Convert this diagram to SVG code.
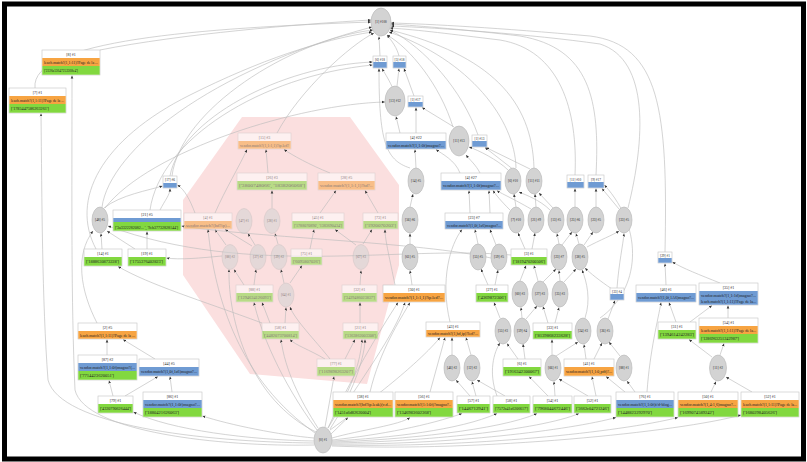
<svg xmlns="http://www.w3.org/2000/svg" width="807" height="462" viewBox="0 0 807 462">
<defs>
<marker id="ah" markerWidth="3.2" markerHeight="3.2" refX="3" refY="1.6" orient="auto" markerUnits="userSpaceOnUse"><path d="M0,0.3 L3,1.6 L0,2.9z" fill="#333"/></marker>
<style>
.e{fill:none;stroke:#bdbdbd;stroke-width:0.65;marker-end:url(#ah)}
.h{fill:#fff;stroke:#c4c4c4;stroke-width:0.6}
.o{fill:#f7a442}
.b{fill:#6f9bd3}
.g{fill:#82d83f}
.el{fill:#d3d3d3;stroke:#b5b5b5;stroke-width:0.6}
text{font-family:"Liberation Serif","DejaVu Serif",serif;font-size:4px;fill:#222}
.t{text-anchor:middle}
.s{font-size:3.4px}
.f{opacity:0.55}
</style>
</defs>
<rect x="0" y="0" width="807" height="462" fill="#fff"/>
<polygon points="242,117 350,117 399,185 399,265 367,384 250,374 183,275 183,200" fill="#fbdfdf"/>
<g id="edges">
<path class="e" d="M380,56 L379,36.5"/>
<path class="e" d="M399,56 C397,48 392,41 387,35"/>
<path class="e" d="M392,86.5 C388,78 384,72 382,68.5"/>
<path class="e" d="M397,86 L399,68.5"/>
<path class="e" d="M414,96 L404,68.5"/>
<path class="e" d="M416,133 L416,107.5"/>
<path class="e" d="M454,127 L422,107.5"/>
<path class="e" d="M478,135 C462,90 425,48 390,30"/>
<path class="e" d="M453,127 C440,85 410,48 387,35"/>
<path class="e" d="M410,168 C385,160 379,140 379,68.5"/>
<path class="e" d="M400,133 L396,116.5"/>
<path class="e" d="M105,208 C150,150 300,104 385,102"/>
<path class="e" d="M170,176 C180,120 280,66 372.5,62"/>
<path class="e" d="M150,210 C160,140 260,76 372.5,65"/>
<path class="e" d="M35,88 C30,40 200,28 371,22"/>
<path class="e" d="M100,50 C180,34 300,24 371,20"/>
<path class="e" d="M102,207 C110,150 210,70 372,27"/>
<path class="e" d="M172,176 C180,110 290,40 373,30"/>
<path class="e" d="M96,249 C70,200 100,140 190,95 C260,60 320,40 372,32"/>
<path class="e" d="M277,133 C300,90 350,45 374,33"/>
<path class="e" d="M97,323 C80,290 75,255 93,231"/>
<path class="e" d="M665,252 C668,110 660,45 590,36 C500,28 430,24 391,23"/>
<path class="e" d="M628,208 C645,140 650,60 600,44 C530,34 440,28 391,26"/>
<path class="e" d="M575,175 C578,110 560,50 500,40 C450,34 420,30 390,28"/>
<path class="e" d="M596,175 C600,100 590,48 520,36 C470,30 420,26 391,24"/>
<path class="e" d="M516,168 C515,120 470,60 389,32"/>
<path class="e" d="M534,168 C532,100 490,55 390,30"/>
<path class="e" d="M460,173 C455,160 442,154 436,149.5"/>
<path class="e" d="M416,168 L415,149.5"/>
<path class="e" d="M480,173 C476,165 470,160 466,155"/>
<path class="e" d="M508,170 C498,160 478,150 469,147"/>
<path class="e" d="M512,168.5 L485,147.5"/>
<path class="e" d="M530,169 L486,147.5"/>
<path class="e" d="M470,213 L469,190.5"/>
<path class="e" d="M490,213 L489,190.5"/>
<path class="e" d="M410,207 L413,194"/>
<path class="e" d="M410,244 L410,233.5"/>
<path class="e" d="M516,207 L514,194"/>
<path class="e" d="M536,207 L535,194"/>
<path class="e" d="M553,208 L539,193"/>
<path class="e" d="M550,210 C540,200 526,195 519,192"/>
<path class="e" d="M575,207 L575,188.5"/>
<path class="e" d="M596,207 L596,188.5"/>
<path class="e" d="M619,209 L602,188.5"/>
<path class="e" d="M510,210 C501,201 496,195 493,190.5"/>
<path class="e" d="M531,209 C512,198 500,193 497,190.5"/>
<path class="e" d="M496,245 L490,229.5"/>
<path class="e" d="M478,244 L475,229.5"/>
<path class="e" d="M525,249 L518,233"/>
<path class="e" d="M532,249 L535,233"/>
<path class="e" d="M559,244 L557,233.5"/>
<path class="e" d="M562,245 L572,232"/>
<path class="e" d="M579,244 L576,233.5"/>
<path class="e" d="M584,245 L593,232"/>
<path class="e" d="M587,247 C600,240 613,235 619,231"/>
<path class="e" d="M520,281 L526,265.5"/>
<path class="e" d="M543,282 L556,269"/>
<path class="e" d="M564,282 L576,269"/>
<path class="e" d="M538,281 L534,265.5"/>
<path class="e" d="M560,281 L559,270.5"/>
<path class="e" d="M488,285 L481,269"/>
<path class="e" d="M495,285 L498,270"/>
<path class="e" d="M500,318 L494,302.5"/>
<path class="e" d="M522,318 L521,307.5"/>
<path class="e" d="M526,319 L537,306"/>
<path class="e" d="M555,323 L559,307.5"/>
<path class="e" d="M548,323 L543,306.5"/>
<path class="e" d="M585,318 C591,300 587,282 582,270"/>
<path class="e" d="M608,319 L615,300.5"/>
<path class="e" d="M617,288 C619,262 623,245 624,233.5"/>
<path class="e" d="M612,289 C600,281 590,273 585,268"/>
<path class="e" d="M600,318 C640,290 645,230 604.5,185"/>
<path class="e" d="M452,355 L452,337.5"/>
<path class="e" d="M471,355 L466,337.5"/>
<path class="e" d="M518,359 L507,343.5"/>
<path class="e" d="M525,359 L523,344"/>
<path class="e" d="M556,356 L578,342"/>
<path class="e" d="M552,355 L552,339.5"/>
<path class="e" d="M586,359 L584,344.5"/>
<path class="e" d="M594,359 L602,343"/>
<path class="e" d="M620,356 L609,342"/>
<path class="e" d="M470,396 L456,380"/>
<path class="e" d="M476,396 L472,381.5"/>
<path class="e" d="M505,396 L477,380"/>
<path class="e" d="M497,396 C488,372 494,352 500,343"/>
<path class="e" d="M548,396 L529,376.5"/>
<path class="e" d="M555,396 L554,381.5"/>
<path class="e" d="M588,396 L559,379"/>
<path class="e" d="M596,396 L592,376.5"/>
<path class="e" d="M450,322 C440,280 450,245 462,229.5"/>
<path class="e" d="M666,285 L665,263.5"/>
<path class="e" d="M720,283 C700,275 682,268 672.5,262"/>
<path class="e" d="M676,322 L669,302.5"/>
<path class="e" d="M647,392 C650,350 658,320 661,302.5"/>
<path class="e" d="M690,322 L712,305.5"/>
<path class="e" d="M712,357 L689,339.5"/>
<path class="e" d="M720,355 L724,343.5"/>
<path class="e" d="M711,392 L716,381.5"/>
<path class="e" d="M752,392 L726,377"/>
<path class="e" d="M728,318 L728,305.5"/>
<path class="e" d="M635,392 L627,381"/>
<path class="e" d="M625,392 L606,376.5"/>
<path class="e" d="M268,173 L266,149.5"/>
<path class="e" d="M215,213 C225,190 240,165 247,149.5"/>
<path class="e" d="M330,173 C310,165 292,155 284,149.5"/>
<path class="e" d="M272,208 L272,190.5"/>
<path class="e" d="M320,213 L336,190.5"/>
<path class="e" d="M378,213 L365,190.5"/>
<path class="e" d="M226,245 L215,229.5"/>
<path class="e" d="M255,245 L248,233.5"/>
<path class="e" d="M278,244 L275,233.5"/>
<path class="e" d="M252,246 L225,229.5"/>
<path class="e" d="M310,249 L314,229.5"/>
<path class="e" d="M363,244 L372,229.5"/>
<path class="e" d="M356,245 L335,229.5"/>
<path class="e" d="M254,285 L256,269.5"/>
<path class="e" d="M244,285 L234,269.5"/>
<path class="e" d="M284,283 L281,269.5"/>
<path class="e" d="M290,283 L302,265.5"/>
<path class="e" d="M360,285 L361,270.5"/>
<path class="e" d="M270,323 L262,302.5"/>
<path class="e" d="M285,323 L286,307.5"/>
<path class="e" d="M360,323 L360,302.5"/>
<path class="e" d="M325,359 C310,350 295,345 290,339.5"/>
<path class="e" d="M345,359 L355,339.5"/>
<path class="e" d="M330,359 C315,340 295,320 290,307"/>
<path class="e" d="M195,213 C190,200 185,190 177.5,185"/>
<path class="e" d="M222,256 C200,258 180,260 166.5,258"/>
<path class="e" d="M511,255 C400,245 250,278 108,226"/>
<path class="e" d="M491,258 C420,242 260,238 181.5,226"/>
<path class="e" d="M262,323 C200,300 150,285 118,266.5"/>
<path class="e" d="M412,285 L410,270.5"/>
<path class="e" d="M395,285 C390,260 385,240 385,229.5"/>
<path class="e" d="M370,392 C380,350 400,320 410,302.5"/>
<path class="e" d="M430,392 L445,337.5"/>
<path class="e" d="M350,392 C360,370 365,350 365,339.5"/>
<path class="e" d="M318,428 C300,400 285,370 281,339.5"/>
<path class="e" d="M325,427 L334,376.5"/>
<path class="e" d="M328,428 C345,400 360,370 362,339.5"/>
<path class="e" d="M331,434 L348,417.5"/>
<path class="e" d="M332,438 C360,430 400,425 410,417.5"/>
<path class="e" d="M332,440 C380,435 430,425 462,413.5"/>
<path class="e" d="M332,441 C390,438 460,430 497,413.5"/>
<path class="e" d="M332,442 C400,440 500,430 537,413.5"/>
<path class="e" d="M332,443 C420,442 540,430 579,413.5"/>
<path class="e" d="M332,444 C450,445 570,430 616,417.5"/>
<path class="e" d="M332,445 C470,448 620,432 678,417.5"/>
<path class="e" d="M332,446 C480,452 680,432 741,415"/>
<path class="e" d="M314,438 C280,435 230,425 202.5,416"/>
<path class="e" d="M314,441 C250,440 170,430 133.5,412"/>
<path class="e" d="M314,443 C200,442 60,425 48,380 C42,300 42,200 41,113.5"/>
<path class="e" d="M314,445 C220,447 85,432 75,390 C71,300 72,200 72,75.5"/>
<path class="e" d="M328,428 C350,380 380,330 398,302.5"/>
<path class="e" d="M330,429 C360,380 395,335 405,302.5"/>
<path class="e" d="M316,432 C250,400 228,320 229,269.5"/>
<path class="e" d="M315,433 C240,380 215,300 208,229.5"/>
<path class="e" d="M317,430 C280,380 260,330 254,302.5"/>
<path class="e" d="M330,430 C400,380 430,350 440,337.5"/>
<path class="e" d="M113,396 L109,380.5"/>
<path class="e" d="M125,396 L158,376.5"/>
<path class="e" d="M107,355 L107,339.5"/>
<path class="e" d="M155,359 L123,339.5"/>
<path class="e" d="M172,392 L170,376.5"/>
<path class="e" d="M160,210 C165,200 170,195 170,188.5"/>
<path class="e" d="M104,208 C120,195 150,190 162.5,186"/>
<path class="e" d="M102,249 L101,233.5"/>
<path class="e" d="M147,249 L147,231.5"/>
<path class="e" d="M135,249 L107,231"/>
</g>
<g id="n8"><rect class="h" x="42" y="50" width="58" height="25"/><rect class="o" x="42.3" y="58" width="57.4" height="8"/><rect class="g" x="42.3" y="66" width="57.4" height="8.7"/><text class="t" x="71" y="55.8">[8] #1</text><text x="44" y="63.5" textLength="54" lengthAdjust="spacingAndGlyphs">leach.match?(1,1:11)?Page de la ...</text><text x="44" y="72" textLength="34" lengthAdjust="spacingAndGlyphs">['2226a53647253368e4']</text></g>
<g id="n7"><rect class="h" x="9" y="88" width="57" height="25"/><rect class="o" x="9.3" y="96" width="56.4" height="8"/><rect class="g" x="9.3" y="104" width="56.4" height="8.7"/><text class="t" x="37.5" y="93.8">[7] #1</text><text x="11" y="101.5" textLength="53" lengthAdjust="spacingAndGlyphs">leach.match?(1,1:11)?Page de la ...</text><text x="11" y="110" textLength="38" lengthAdjust="spacingAndGlyphs">['1785447586263261']</text></g>
<g id="n17"><rect class="h" x="163" y="176" width="14" height="12"/><rect class="b" x="163.3" y="183" width="13.4" height="4.7"/><text class="t s" x="170" y="181.2">[17] #6</text></g>
<g id="n48"><ellipse class="el" cx="100" cy="220" rx="8" ry="13"/><text class="t s" x="100" y="221.2">[48] #5</text></g>
<g id="n21"><rect class="h" x="113" y="210" width="68" height="21"/><rect class="b" x="113.3" y="218" width="67.4" height="4"/><rect class="g" x="113.3" y="222" width="67.4" height="8.7"/><text class="t" x="147" y="215.8">[21] #5</text><text x="115" y="228.5" textLength="63" lengthAdjust="spacingAndGlyphs">['3a3322282082... ', '9eb37732828144']</text></g>
<g id="n14"><rect class="h" x="84" y="249" width="38" height="17"/><rect class="g" x="84.3" y="257" width="37.4" height="8.7"/><text class="t" x="103" y="254.8">[14] #1</text><text x="86" y="263.3" textLength="33" lengthAdjust="spacingAndGlyphs">['1888630873228']</text></g>
<g id="n19"><rect class="h" x="128" y="249" width="38" height="17"/><rect class="g" x="128.3" y="257" width="37.4" height="8.7"/><text class="t" x="147" y="254.8">[19] #1</text><text x="130" y="263.3" textLength="33" lengthAdjust="spacingAndGlyphs">['1755376402823']</text></g>
<g id="n2"><rect class="h" x="78" y="323" width="59" height="16"/><rect class="o" x="78.3" y="331" width="58.4" height="7.7"/><text class="t" x="107.5" y="328.8">[2] #5</text><text x="80" y="336.6" textLength="55" lengthAdjust="spacingAndGlyphs">leach.match?(1,1:11)?Page de la ...</text></g>
<g id="n87"><rect class="h" x="78" y="355" width="59" height="25"/><rect class="b" x="78.3" y="363" width="58.4" height="8"/><rect class="g" x="78.3" y="371" width="58.4" height="8.7"/><text class="t" x="107.5" y="360.8">[87] #2</text><text x="80" y="368.6" textLength="55" lengthAdjust="spacingAndGlyphs">vendor.match?(1,1:0f)magno?(...</text><text x="80" y="377.3" textLength="34" lengthAdjust="spacingAndGlyphs">['7714423620051']</text></g>
<g id="n44"><rect class="h" x="139" y="359" width="60" height="17"/><rect class="b" x="139.3" y="367" width="59.4" height="8.7"/><text class="t" x="169" y="364.8">[44] #5</text><text x="141" y="373" textLength="56" lengthAdjust="spacingAndGlyphs">vendor.match?(1,0f,1a6)magno?...</text></g>
<g id="n79"><rect class="h" x="98" y="396" width="35" height="17"/><rect class="g" x="98.3" y="404" width="34.4" height="8.7"/><text class="t" x="115.5" y="401.8">[79] #1</text><text x="100" y="410.3" textLength="31" lengthAdjust="spacingAndGlyphs">['4320790626444']</text></g>
<g id="n86"><rect class="h" x="143" y="392" width="59" height="25"/><rect class="b" x="143.3" y="400" width="58.4" height="8"/><rect class="g" x="143.3" y="408" width="58.4" height="8.7"/><text class="t" x="172.5" y="397.8">[86] #1</text><text x="145" y="405.6" textLength="55" lengthAdjust="spacingAndGlyphs">vendor.match?(1,1:0f)magno?...</text><text x="145" y="414.3" textLength="34" lengthAdjust="spacingAndGlyphs">['1880421626063']</text></g>
<g id="n15" class="f"><rect class="h" x="238" y="133" width="53" height="16"/><rect class="o" x="238.3" y="141" width="52.4" height="7.7"/><text class="t" x="264.5" y="138.8">[15] #3</text><text x="240" y="146.6" textLength="49" lengthAdjust="spacingAndGlyphs">vendor.match?(1,1:1,1)?ip.led?</text></g>
<g id="n26" class="f"><rect class="h" x="237" y="173" width="70" height="17"/><rect class="g" x="237.3" y="181" width="69.4" height="8.7"/><text class="t" x="272" y="178.8">[26] #3</text><text x="239" y="187.3" textLength="66" lengthAdjust="spacingAndGlyphs">['3800748066', '1838206068']</text></g>
<g id="n28" class="f"><rect class="h" x="318" y="173" width="57" height="17"/><rect class="o" x="318.3" y="181" width="56.4" height="8.7"/><text class="t" x="346.5" y="178.8">[28] #5</text><text x="320" y="187.3" textLength="53" lengthAdjust="spacingAndGlyphs">vendor.match?(1,1:1,1)?hd?...</text></g>
<g id="n4a" class="f"><rect class="h" x="184" y="213" width="48" height="16"/><rect class="o" x="184.3" y="221" width="47.4" height="7.7"/><text class="t" x="208" y="218.8">[4] #1</text><text x="186" y="226.6" textLength="44" lengthAdjust="spacingAndGlyphs">vendor.match?(hd?ip)...</text></g>
<g id="n47" class="f"><ellipse class="el" cx="244" cy="221" rx="8" ry="12.5"/><text class="t s" x="244" y="222.2">[47] #1</text></g>
<g id="n28e" class="f"><ellipse class="el" cx="272" cy="221" rx="8" ry="12.5"/><text class="t s" x="272" y="222.2">[28] #1</text></g>
<g id="n45" class="f"><rect class="h" x="292" y="213" width="52" height="16"/><rect class="g" x="292.3" y="221" width="51.4" height="7.7"/><text class="t" x="318" y="218.8">[45] #1</text><text x="294" y="226.6" textLength="48" lengthAdjust="spacingAndGlyphs">['1788070890', '1383690434']</text></g>
<g id="n73" class="f"><rect class="h" x="363" y="213" width="35" height="16"/><rect class="g" x="363.3" y="221" width="34.4" height="7.7"/><text class="t" x="380.5" y="218.8">[73] #1</text><text x="365" y="226.6" textLength="31" lengthAdjust="spacingAndGlyphs">['1920070203']</text></g>
<g id="n88e" class="f"><ellipse class="el" cx="230" cy="257" rx="8" ry="12.5"/><text class="t s" x="230" y="258.2">[88] #2</text></g>
<g id="n37" class="f"><ellipse class="el" cx="258" cy="257" rx="8" ry="12.5"/><text class="t s" x="258" y="258.2">[37] #2</text></g>
<g id="n39" class="f"><ellipse class="el" cx="279" cy="257" rx="8" ry="12.5"/><text class="t s" x="279" y="258.2">[39] #2</text></g>
<g id="n75" class="f"><rect class="h" x="291" y="249" width="31" height="16"/><rect class="g" x="291.3" y="257" width="30.4" height="7.7"/><text class="t" x="306.5" y="254.8">[75] #1</text><text x="293" y="262.6" textLength="27" lengthAdjust="spacingAndGlyphs">['6095807026']</text></g>
<g id="n67" class="f"><ellipse class="el" cx="361" cy="257" rx="8" ry="12.5"/><text class="t s" x="361" y="258.2">[67] #3</text></g>
<g id="n88" class="f"><rect class="h" x="236" y="285" width="37" height="17"/><rect class="g" x="236.3" y="293" width="36.4" height="8.7"/><text class="t" x="254.5" y="290.8">[88] #1</text><text x="238" y="299.3" textLength="33" lengthAdjust="spacingAndGlyphs">['1294634126093']</text></g>
<g id="n64" class="f"><ellipse class="el" cx="286" cy="295" rx="8" ry="12"/><text class="t s" x="286" y="296.2">[64] #1</text></g>
<g id="n32" class="f"><rect class="h" x="342" y="285" width="35" height="17"/><rect class="g" x="342.3" y="293" width="34.4" height="8.7"/><text class="t" x="359.5" y="290.8">[32] #1</text><text x="344" y="299.3" textLength="31" lengthAdjust="spacingAndGlyphs">['3429486023837']</text></g>
<g id="n58" class="f"><rect class="h" x="262" y="323" width="37" height="16"/><rect class="g" x="262.3" y="331" width="36.4" height="7.7"/><text class="t" x="280.5" y="328.8">[58] #1</text><text x="264" y="336.6" textLength="33" lengthAdjust="spacingAndGlyphs">['4482073700814']</text></g>
<g id="n21b" class="f"><rect class="h" x="343" y="323" width="35" height="16"/><rect class="g" x="343.3" y="331" width="34.4" height="7.7"/><text class="t" x="360.5" y="328.8">[21] #1</text><text x="345" y="336.6" textLength="31" lengthAdjust="spacingAndGlyphs">['1363862003308']</text></g>
<g id="n77" class="f"><rect class="h" x="317" y="359" width="38" height="17"/><rect class="g" x="317.3" y="367" width="37.4" height="8.7"/><text class="t" x="336" y="364.8">[77] #1</text><text x="319" y="373.3" textLength="34" lengthAdjust="spacingAndGlyphs">['1169898263207']</text></g>
<g id="n30"><rect class="h" x="383" y="285" width="62" height="17"/><rect class="o" x="383.3" y="293" width="61.4" height="8.7"/><text class="t" x="414" y="290.8">[30] #1</text><text x="385" y="299.3" textLength="58" lengthAdjust="spacingAndGlyphs">vendor.match?(1,1:1,1)?ip.led?...</text></g>
<g id="n38"><rect class="h" x="333" y="392" width="60" height="25"/><rect class="o" x="333.3" y="400" width="59.4" height="8"/><rect class="g" x="333.3" y="408" width="59.4" height="8.7"/><text class="t" x="363" y="397.8">[38] #1</text><text x="335" y="405.6" textLength="56" lengthAdjust="spacingAndGlyphs">vendor.match?(hd?ip.leak)(v.d...</text><text x="335" y="414.3" textLength="36" lengthAdjust="spacingAndGlyphs">['1451a6d82620004']</text></g>
<g id="n56"><rect class="h" x="395" y="392" width="58" height="25"/><rect class="o" x="395.3" y="400" width="57.4" height="8"/><rect class="g" x="395.3" y="408" width="57.4" height="8.7"/><text class="t" x="424" y="397.8">[56] #1</text><text x="397" y="405.6" textLength="54" lengthAdjust="spacingAndGlyphs">vendor.match?(1:1:0f)?magno?..</text><text x="397" y="414.3" textLength="34" lengthAdjust="spacingAndGlyphs">['1346983602368']</text></g>
<g id="n0"><ellipse class="el" cx="323" cy="440" rx="9" ry="13"/><text class="t s" x="323" y="441.2">[0] #1</text></g>
<g id="n1e"><ellipse class="el" cx="381" cy="22" rx="10" ry="14"/><text class="t s" x="381" y="23.2">[1] #100</text></g>
<g id="n6"><rect class="h" x="373" y="56" width="14" height="12"/><rect class="b" x="373.3" y="62" width="13.4" height="5.7"/><text class="t s" x="380" y="60.8">[6] #18</text></g>
<g id="n5"><rect class="h" x="393" y="56" width="13" height="12"/><rect class="b" x="393.3" y="62" width="12.4" height="5.7"/><text class="t s" x="399.5" y="60.8">[5] #18</text></g>
<g id="n13"><ellipse class="el" cx="395" cy="101" rx="10" ry="15"/><text class="t s" x="395" y="102.2">[13] #12</text></g>
<g id="n1"><rect class="h" x="408" y="96" width="15" height="11"/><rect class="b" x="408.3" y="102" width="14.4" height="4.7"/><text class="t s" x="415.5" y="100.8">[1] #17</text></g>
<g id="n4b"><rect class="h" x="386" y="133" width="60" height="16"/><rect class="b" x="386.3" y="141" width="59.4" height="7.7"/><text class="t" x="416" y="138.8">[4] #22</text><text x="388" y="146.6" textLength="56" lengthAdjust="spacingAndGlyphs">vendor.match?(1,1:0f)magno?...</text></g>
<g id="n11"><ellipse class="el" cx="459" cy="141" rx="10" ry="15"/><text class="t s" x="459" y="142.2">[11] #13</text></g>
<g id="n1b"><rect class="h" x="472" y="135" width="15" height="12"/><rect class="b" x="472.3" y="141" width="14.4" height="5.7"/><text class="t s" x="479.5" y="139.8">[1] #13</text></g>
<g id="n14e"><ellipse class="el" cx="416" cy="181" rx="8" ry="13"/><text class="t s" x="416" y="182.2">[14] #5</text></g>
<g id="n4c"><rect class="h" x="441" y="173" width="60" height="17"/><rect class="b" x="441.3" y="181" width="59.4" height="8.7"/><text class="t" x="471" y="178.8">[4] #27</text><text x="443" y="187.3" textLength="56" lengthAdjust="spacingAndGlyphs">vendor.match?(1,1:0f)magno?...</text></g>
<g id="n6e"><ellipse class="el" cx="513" cy="181" rx="8" ry="13"/><text class="t s" x="513" y="182.2">[6] #10</text></g>
<g id="n11f"><ellipse class="el" cx="534" cy="181" rx="8" ry="13"/><text class="t s" x="534" y="182.2">[11] #11</text></g>
<g id="n11b"><rect class="h" x="567" y="175" width="17" height="13"/><rect class="b" x="567.3" y="182" width="16.4" height="5.7"/><text class="t s" x="575.5" y="180.6">[11] #10</text></g>
<g id="n9"><rect class="h" x="588" y="175" width="16" height="13"/><rect class="b" x="588.3" y="182" width="15.4" height="5.7"/><text class="t s" x="596" y="180.6">[9] #17</text></g>
<g id="n56e"><ellipse class="el" cx="410" cy="220" rx="8" ry="13"/><text class="t s" x="410" y="221.2">[56] #6</text></g>
<g id="n23"><rect class="h" x="445" y="213" width="58" height="16"/><rect class="b" x="445.3" y="221" width="57.4" height="7.7"/><text class="t" x="474" y="218.8">[23] #7</text><text x="447" y="226.6" textLength="54" lengthAdjust="spacingAndGlyphs">vendor.match?(1,0f,1a6)magno?...</text></g>
<g id="n7e"><ellipse class="el" cx="516" cy="220" rx="8" ry="13"/><text class="t s" x="516" y="221.2">[7] #10</text></g>
<g id="n21e"><ellipse class="el" cx="536" cy="220" rx="8" ry="13"/><text class="t s" x="536" y="221.2">[21] #9</text></g>
<g id="n13f"><ellipse class="el" cx="556" cy="220" rx="8" ry="13"/><text class="t s" x="556" y="221.2">[13] #5</text></g>
<g id="n25e"><ellipse class="el" cx="575" cy="220" rx="8" ry="13"/><text class="t s" x="575" y="221.2">[25] #6</text></g>
<g id="n23e"><ellipse class="el" cx="596" cy="220" rx="8" ry="13"/><text class="t s" x="596" y="221.2">[23] #5</text></g>
<g id="n33e"><ellipse class="el" cx="624" cy="220" rx="8" ry="13"/><text class="t s" x="624" y="221.2">[33] #5</text></g>
<g id="n61e"><ellipse class="el" cx="410" cy="257" rx="8" ry="13"/><text class="t s" x="410" y="258.2">[61] #5</text></g>
<g id="n55e"><ellipse class="el" cx="478" cy="257" rx="8" ry="13"/><text class="t s" x="478" y="258.2">[55] #5</text></g>
<g id="n59e"><ellipse class="el" cx="499" cy="257" rx="8" ry="13"/><text class="t s" x="499" y="258.2">[59] #5</text></g>
<g id="n3"><rect class="h" x="511" y="249" width="36" height="16"/><rect class="g" x="511.3" y="257" width="35.4" height="7.7"/><text class="t" x="529" y="254.8">[3] #1</text><text x="513" y="262.6" textLength="32" lengthAdjust="spacingAndGlyphs">['1819470200506']</text></g>
<g id="n23f"><ellipse class="el" cx="559" cy="257" rx="8" ry="13"/><text class="t s" x="559" y="258.2">[23] #7</text></g>
<g id="n38e"><ellipse class="el" cx="580" cy="257" rx="8" ry="13"/><text class="t s" x="580" y="258.2">[38] #5</text></g>
<g id="n27"><rect class="h" x="476" y="285" width="32" height="17"/><rect class="g" x="476.3" y="293" width="31.4" height="8.7"/><text class="t" x="492" y="290.8">[27] #1</text><text x="478" y="299.3" textLength="28" lengthAdjust="spacingAndGlyphs">['4369872306']</text></g>
<g id="n60e"><ellipse class="el" cx="520" cy="294" rx="8" ry="13"/><text class="t s" x="520" y="295.2">[60] #3</text></g>
<g id="n27e"><ellipse class="el" cx="540" cy="294" rx="8" ry="13"/><text class="t s" x="540" y="295.2">[27] #3</text></g>
<g id="n35e"><ellipse class="el" cx="560" cy="294" rx="8" ry="13"/><text class="t s" x="560" y="295.2">[35] #3</text></g>
<g id="n55f"><ellipse class="el" cx="503" cy="331" rx="8" ry="13"/><text class="t s" x="503" y="332.2">[55] #3</text></g>
<g id="n59f"><ellipse class="el" cx="522" cy="331" rx="8" ry="13"/><text class="t s" x="522" y="332.2">[59] #4</text></g>
<g id="n33"><rect class="h" x="533" y="323" width="39" height="16"/><rect class="g" x="533.3" y="331" width="38.4" height="7.7"/><text class="t" x="552.5" y="328.8">[33] #1</text><text x="535" y="336.6" textLength="35" lengthAdjust="spacingAndGlyphs">['8139868233628']</text></g>
<g id="n24e"><ellipse class="el" cx="583" cy="331" rx="8" ry="13"/><text class="t s" x="583" y="332.2">[24] #3</text></g>
<g id="n36e"><ellipse class="el" cx="605" cy="331" rx="8" ry="13"/><text class="t s" x="605" y="332.2">[36] #5</text></g>
<g id="n43"><rect class="h" x="426" y="322" width="54" height="15"/><rect class="o" x="426.3" y="330" width="53.4" height="6.7"/><text class="t" x="453" y="327.8">[43] #1</text><text x="428" y="335" textLength="50" lengthAdjust="spacingAndGlyphs">vendor.match?(1,hd,ip)?led?...</text></g>
<g id="n46e"><ellipse class="el" cx="452" cy="368" rx="8" ry="13"/><text class="t s" x="452" y="369.2">[46] #2</text></g>
<g id="n12e"><ellipse class="el" cx="472" cy="368" rx="8" ry="13"/><text class="t s" x="472" y="369.2">[12] #2</text></g>
<g id="n6b"><rect class="h" x="503" y="359" width="38" height="17"/><rect class="g" x="503.3" y="367" width="37.4" height="8.7"/><text class="t" x="522" y="364.8">[6] #1</text><text x="505" y="373.3" textLength="34" lengthAdjust="spacingAndGlyphs">['1916342300067']</text></g>
<g id="n66e"><ellipse class="el" cx="553" cy="368" rx="8" ry="13"/><text class="t s" x="553" y="369.2">[66] #1</text></g>
<g id="n41"><rect class="h" x="564" y="359" width="50" height="17"/><rect class="o" x="564.3" y="367" width="49.4" height="8.7"/><text class="t" x="589" y="364.8">[41] #1</text><text x="566" y="373.3" textLength="46" lengthAdjust="spacingAndGlyphs">vendor.match?(1,1:0,pdf)?...</text></g>
<g id="n88f"><ellipse class="el" cx="624" cy="368" rx="8" ry="13"/><text class="t s" x="624" y="369.2">[88] #1</text></g>
<g id="n57"><rect class="h" x="457" y="396" width="33" height="17"/><rect class="g" x="457.3" y="404" width="32.4" height="8.7"/><text class="t" x="473.5" y="401.8">[57] #1</text><text x="459" y="410.3" textLength="29" lengthAdjust="spacingAndGlyphs">['1446712941']</text></g>
<g id="n50b"><rect class="h" x="493" y="396" width="37" height="17"/><rect class="g" x="493.3" y="404" width="36.4" height="8.7"/><text class="t" x="511.5" y="401.8">[58] #1</text><text x="495" y="410.3" textLength="33" lengthAdjust="spacingAndGlyphs">['7572a41a6206617']</text></g>
<g id="n54"><rect class="h" x="533" y="396" width="39" height="17"/><rect class="g" x="533.3" y="404" width="38.4" height="8.7"/><text class="t" x="552.5" y="401.8">[54] #1</text><text x="535" y="410.3" textLength="35" lengthAdjust="spacingAndGlyphs">['7968044672446']</text></g>
<g id="n52"><rect class="h" x="574" y="396" width="37" height="17"/><rect class="g" x="574.3" y="404" width="36.4" height="8.7"/><text class="t" x="592.5" y="401.8">[52] #1</text><text x="576" y="410.3" textLength="33" lengthAdjust="spacingAndGlyphs">['3662c04721246']</text></g>
<g id="n29"><rect class="h" x="658" y="252" width="14" height="11"/><rect class="b" x="658.3" y="258" width="13.4" height="4.7"/><text class="t s" x="665" y="256.8">[29] #1</text></g>
<g id="n33b"><rect class="h" x="610" y="288" width="14" height="12"/><rect class="b" x="610.3" y="294" width="13.4" height="5.7"/><text class="t s" x="617" y="292.8">[33] #4</text></g>
<g id="n46"><rect class="h" x="636" y="285" width="60" height="17"/><rect class="b" x="636.3" y="293" width="59.4" height="8.7"/><text class="t" x="666" y="290.8">[46] #1</text><text x="638" y="299.3" textLength="56" lengthAdjust="spacingAndGlyphs">vendor.match?(1,0f,1A6)magno?...</text></g>
<g id="n35"><rect class="h" x="699" y="283" width="59" height="22"/><rect class="b" x="699.3" y="291" width="58.4" height="13.7"/><text class="t" x="728.5" y="288.8">[35] #1</text><text x="701" y="297" textLength="55" lengthAdjust="spacingAndGlyphs">vendor.match?(1,1:1d)magno?...</text><text x="701" y="302.6" textLength="55" lengthAdjust="spacingAndGlyphs">leach.match?(1,1:11)?Page de la...</text></g>
<g id="n31"><rect class="h" x="658" y="322" width="38" height="17"/><rect class="g" x="658.3" y="330" width="37.4" height="8.7"/><text class="t" x="677" y="327.8">[31] #1</text><text x="660" y="336.3" textLength="34" lengthAdjust="spacingAndGlyphs">['1394614242283']</text></g>
<g id="n54b"><rect class="h" x="699" y="318" width="59" height="25"/><rect class="o" x="699.3" y="326" width="58.4" height="8"/><rect class="g" x="699.3" y="334" width="58.4" height="8.7"/><text class="t" x="728.5" y="323.8">[54] #1</text><text x="701" y="331.6" textLength="55" lengthAdjust="spacingAndGlyphs">leach.match?(1,1:11)?Page de la...</text><text x="701" y="340.3" textLength="38" lengthAdjust="spacingAndGlyphs">['1286963251242987']</text></g>
<g id="n11g"><ellipse class="el" cx="718" cy="368" rx="8.5" ry="13"/><text class="t s" x="718" y="369.2">[11] #2</text></g>
<g id="n76"><rect class="h" x="616" y="392" width="58" height="25"/><rect class="b" x="616.3" y="400" width="57.4" height="8"/><rect class="g" x="616.3" y="408" width="57.4" height="8.7"/><text class="t" x="645" y="397.8">[76] #1</text><text x="618" y="405.6" textLength="54" lengthAdjust="spacingAndGlyphs">vendor.match?(1,1:0f)f/d-blog...</text><text x="618" y="414.3" textLength="34" lengthAdjust="spacingAndGlyphs">['1448823292970']</text></g>
<g id="n50"><rect class="h" x="678" y="392" width="60" height="25"/><rect class="o" x="678.3" y="400" width="59.4" height="8"/><rect class="g" x="678.3" y="408" width="59.4" height="8.7"/><text class="t" x="708" y="397.8">[50] #1</text><text x="680" y="405.6" textLength="56" lengthAdjust="spacingAndGlyphs">vendor.match?(1,4:1,6)magno?...</text><text x="680" y="414.3" textLength="34" lengthAdjust="spacingAndGlyphs">['1699074589242']</text></g>
<g id="n52b"><rect class="h" x="741" y="392" width="58" height="25"/><rect class="o" x="741.3" y="400" width="57.4" height="8"/><rect class="g" x="741.3" y="408" width="57.4" height="8.7"/><text class="t" x="770" y="397.8">[52] #1</text><text x="743" y="405.6" textLength="54" lengthAdjust="spacingAndGlyphs">leach.match?(1,1:11)?Page de la...</text><text x="743" y="414.3" textLength="34" lengthAdjust="spacingAndGlyphs">['1680298405626']</text></g>
<rect x="4.5" y="4" width="799" height="455" fill="none" stroke="#000" stroke-width="5"/>
</svg>
